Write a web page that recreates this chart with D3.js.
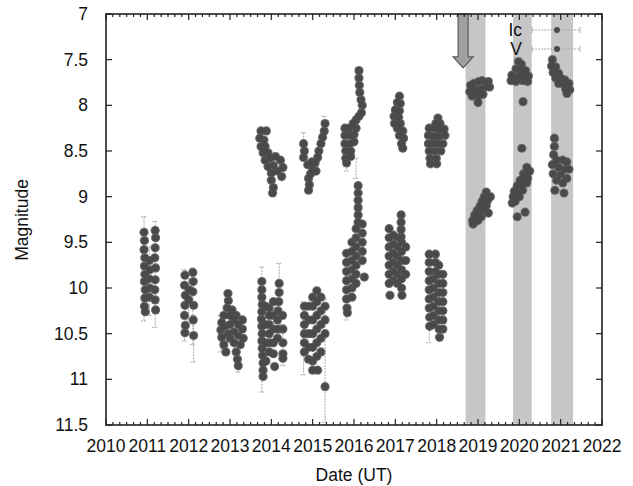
<!DOCTYPE html>
<html>
<head>
<meta charset="utf-8">
<script src="https://cdn.jsdelivr.net/npm/d3@7/dist/d3.min.js"></script>
<style>
  body { margin: 0; background: #fff; }
  text { font-family: "Liberation Sans", Arial, Helvetica, sans-serif; fill: #111; }
</style>
</head>
<body>
<div id="chart-area"></div>
<script>
// *********************
// Data
// *********************

const xTickYears = [2010, 2011, 2012, 2013, 2014, 2015, 2016, 2017, 2018, 2019, 2020, 2021, 2022];
const yTickMags = [7, 7.5, 8, 8.5, 9, 9.5, 10, 10.5, 11, 11.5];

// shaded observing seasons [start, end] in years
const bands = [[2018.7, 2019.18], [2019.85, 2020.3], [2020.77, 2021.3]];

// V band points [year, magnitude]
const vPoints = [
  // 2011
  [2010.92,9.39],[2010.93,9.48],[2010.92,9.58],[2010.94,9.67],[2010.93,9.76],[2010.94,9.85],[2010.93,9.93],
  [2010.95,10.02],[2010.94,10.11],[2010.93,10.2],[2010.95,10.26],
  [2011.19,9.37],[2011.2,9.45],[2011.19,9.56],[2011.18,9.67],[2011.2,9.78],[2011.19,9.91],[2011.18,10.02],
  [2011.19,10.13],[2011.2,10.24],
  [2011.05,9.7],[2011.06,9.8],[2011.04,9.9],[2011.06,10.0],[2011.05,10.1],
  // 2012
  [2011.91,9.86],[2011.9,9.97],[2011.92,10.08],[2011.91,10.19],[2011.9,10.3],[2011.92,10.41],[2011.91,10.49],
  [2012.1,9.83],[2012.11,9.93],[2012.1,10.04],[2012.12,10.19],[2012.11,10.35],[2012.12,10.52],
  [2012.01,10.02],[2012.0,10.13],
  // 2013
  [2012.95,10.06],[2012.96,10.14],[2012.93,10.22],[2012.85,10.3],[2012.8,10.38],[2012.78,10.46],[2012.8,10.54],
  [2012.85,10.62],[2012.9,10.7],[2013.0,10.3],[2013.05,10.24],[2013.0,10.4],[2013.1,10.35],[2013.2,10.4],
  [2013.3,10.45],[2013.32,10.55],[2013.25,10.62],[2013.1,10.6],[2013.0,10.55],[2013.15,10.7],[2013.18,10.78],
  [2013.2,10.85],[2012.95,10.5],[2013.1,10.48],[2013.2,10.52],[2013.3,10.35],[2012.88,10.42],[2013.15,10.3],
  // 2014
  [2013.77,9.93],[2013.77,10.02],[2013.77,10.1],[2013.78,10.18],[2013.77,10.26],[2013.76,10.34],[2013.77,10.42],
  [2013.78,10.5],[2013.77,10.58],[2013.78,10.66],[2013.79,10.74],[2013.8,10.82],[2013.8,10.9],[2013.8,10.97],
  [2013.86,10.2],[2013.86,10.4],[2013.86,10.6],[2013.87,10.8],
  [2013.95,10.22],[2013.95,10.3],[2013.95,10.4],[2013.95,10.5],[2013.95,10.6],[2013.95,10.7],
  [2014.05,10.15],[2014.05,10.3],[2014.05,10.45],[2014.05,10.6],[2014.05,10.72],[2014.08,10.86],
  [2014.19,9.95],[2014.19,10.05],[2014.18,10.15],[2014.16,10.25],[2014.15,10.35],[2014.15,10.45],[2014.15,10.55],
  [2014.27,10.3],[2014.28,10.45],[2014.28,10.6],[2014.28,10.72],[2014.28,10.77],
  // 2015
  [2014.8,10.2],[2014.8,10.3],[2014.8,10.4],[2014.8,10.5],[2014.8,10.6],[2014.8,10.7],
  [2014.9,10.2],[2014.9,10.35],[2014.9,10.5],[2014.9,10.65],[2014.9,10.78],
  [2015.0,10.1],[2015.0,10.2],[2015.0,10.35],[2015.0,10.5],[2015.0,10.65],[2015.0,10.8],[2015.0,10.9],
  [2015.1,10.03],[2015.1,10.15],[2015.1,10.3],[2015.1,10.45],[2015.1,10.6],[2015.1,10.75],[2015.12,10.9],
  [2015.2,10.1],[2015.2,10.25],[2015.2,10.4],[2015.2,10.55],[2015.2,10.7],
  [2015.3,10.2],[2015.3,10.35],[2015.3,10.5],[2015.3,11.08],
  // 2016
  [2016.1,8.88],[2016.1,8.96],[2016.1,9.04],[2016.1,9.12],[2016.1,9.2],[2016.1,9.28],
  [2016.2,9.3],[2016.2,9.4],[2016.2,9.5],[2016.2,9.6],[2016.2,9.7],
  [2016.05,9.35],[2016.05,9.45],[2016.05,9.55],[2016.05,9.65],[2016.05,9.75],[2016.05,9.85],[2016.05,9.95],
  [2015.95,9.5],[2015.95,9.6],[2015.95,9.7],[2015.95,9.8],[2015.95,9.9],[2015.95,10.0],[2015.95,10.1],
  [2015.82,9.62],[2015.82,9.72],[2015.82,9.82],[2015.82,9.92],[2015.82,10.02],[2015.82,10.12],[2015.83,10.22],
  [2015.84,10.27],[2016.25,9.88],
  // 2017
  [2017.14,9.2],[2017.14,9.28],[2017.14,9.36],[2017.14,9.44],
  [2016.85,9.35],[2016.85,9.45],[2016.85,9.55],[2016.85,9.65],[2016.85,9.75],[2016.85,9.85],[2016.85,9.95],
  [2016.87,10.08],
  [2016.95,9.42],[2016.95,9.52],[2016.95,9.62],[2016.95,9.72],[2016.95,9.82],[2016.95,9.92],
  [2017.05,9.45],[2017.05,9.55],[2017.05,9.65],[2017.05,9.75],[2017.05,9.85],[2017.05,9.95],
  [2017.15,9.5],[2017.15,9.6],[2017.15,9.7],[2017.15,9.8],[2017.15,9.9],[2017.15,10.0],[2017.16,10.08],
  [2017.25,9.55],[2017.25,9.7],[2017.25,9.85],
  // 2018
  [2017.82,9.63],[2017.82,9.72],[2017.82,9.82],[2017.82,9.92],[2017.82,10.02],[2017.82,10.12],[2017.82,10.22],
  [2017.83,10.32],[2017.83,10.42],
  [2017.97,9.63],[2017.97,9.72],[2017.97,9.82],
  [2018.05,9.75],[2018.05,9.85],[2018.05,9.95],[2018.05,10.05],[2018.05,10.15],[2018.05,10.25],[2018.05,10.35],
  [2018.06,10.45],[2018.07,10.54],
  [2018.15,9.85],[2018.15,9.95],[2018.15,10.05],[2018.15,10.15],[2018.15,10.25],[2018.15,10.35],[2018.15,10.45],
  [2017.92,9.9],[2017.92,10.0],[2017.92,10.1],[2017.92,10.2],[2017.92,10.3],[2017.92,10.4],
  // 2019
  [2019.2,8.95],[2019.25,9.02],[2019.15,9.0],[2019.1,9.05],[2019.2,9.1],[2019.05,9.1],[2018.98,9.15],
  [2019.1,9.15],[2018.92,9.2],[2019.05,9.2],[2018.87,9.26],[2019.0,9.26],[2018.88,9.3],[2019.25,9.18],
  [2019.15,9.08],[2019.22,9.05],[2018.95,9.22],[2019.08,9.22],[2018.92,9.28],[2019.3,9.0],[2019.15,9.15],
  // 2020
  [2020.18,8.68],[2020.22,8.73],[2020.1,8.75],[2020.15,8.8],[2020.02,8.82],[2020.1,8.86],[2019.95,8.88],
  [2020.03,8.92],[2019.88,8.94],[2019.97,8.98],[2019.85,9.0],[2019.9,9.05],[2019.83,9.07],[2020.14,9.17],
  [2019.95,9.22],[2020.25,8.72],[2020.2,8.8],[2020.08,8.93],[2020.0,9.0],[2019.9,9.0],[2020.18,8.85],
  [2019.92,8.98],
  // 2021
  [2020.85,8.36],[2020.85,8.45],[2020.83,8.54],[2020.9,8.6],[2021.05,8.6],[2021.15,8.62],[2020.8,8.65],
  [2020.95,8.68],[2021.1,8.7],[2021.2,8.7],[2020.82,8.75],[2021.0,8.76],[2021.15,8.8],[2020.9,8.82],
  [2021.05,8.85],[2020.86,8.93],[2021.08,8.96]
];

// Ic band points [year, magnitude]
const icPoints = [
  // 2014
  [2013.75,8.28],[2013.88,8.28],[2013.72,8.36],[2013.82,8.38],[2013.75,8.45],[2013.85,8.45],[2013.8,8.52],
  [2013.92,8.52],[2013.85,8.6],[2013.97,8.58],[2014.1,8.56],[2014.22,8.6],[2013.92,8.67],[2014.05,8.66],
  [2014.28,8.68],[2014.0,8.74],[2014.15,8.72],[2014.25,8.78],[2014.0,8.82],[2014.05,8.9],[2014.03,8.96],
  // 2015
  [2014.78,8.42],[2014.8,8.5],[2014.78,8.57],[2015.3,8.2],[2015.28,8.28],[2015.24,8.35],[2015.2,8.42],
  [2015.15,8.5],[2015.12,8.57],[2015.06,8.63],[2015.0,8.7],[2014.95,8.75],[2014.9,8.8],[2014.92,8.87],
  [2014.9,8.93],[2015.08,8.72],[2014.98,8.62],[2014.88,8.65],
  // 2016
  [2016.12,7.62],[2016.12,7.7],[2016.13,7.78],[2016.14,7.86],[2016.17,7.94],[2016.2,8.0],[2016.18,8.08],
  [2016.12,8.12],[2016.05,8.16],[2015.98,8.2],[2016.05,8.25],[2015.78,8.25],[2015.88,8.25],[2015.78,8.33],
  [2015.9,8.33],[2016.0,8.32],[2015.78,8.42],[2015.9,8.42],[2016.0,8.4],[2015.8,8.5],[2015.92,8.5],
  [2015.8,8.58],[2015.92,8.56],[2015.82,8.63],
  // 2017
  [2017.1,7.9],[2017.05,7.97],[2017.12,7.98],[2017.0,8.05],[2017.1,8.06],[2016.97,8.12],[2017.08,8.13],
  [2016.98,8.2],[2017.12,8.2],[2017.05,8.25],[2017.18,8.28],[2017.1,8.33],[2017.2,8.36],[2017.15,8.42],
  [2017.18,8.47],
  // 2018
  [2018.03,8.14],[2017.98,8.2],[2018.08,8.2],[2017.82,8.25],[2017.92,8.25],[2018.05,8.27],[2018.18,8.26],
  [2017.8,8.33],[2017.92,8.34],[2018.05,8.34],[2018.2,8.33],[2017.8,8.42],[2017.9,8.42],[2018.02,8.42],
  [2018.15,8.42],[2017.82,8.5],[2017.95,8.5],[2018.1,8.5],[2017.84,8.58],[2017.99,8.58],[2017.85,8.64],
  [2018.0,8.64],
  // 2019
  [2018.82,7.78],[2018.9,7.76],[2019.02,7.74],[2019.1,7.73],[2019.25,7.74],[2018.8,7.85],[2018.92,7.84],
  [2019.05,7.82],[2019.18,7.8],[2019.28,7.8],[2018.86,7.9],[2019.0,7.9],[2019.12,7.88],[2019.0,7.97],
  // 2020
  [2019.98,7.52],[2020.05,7.55],[2019.92,7.6],[2020.05,7.62],[2020.15,7.62],[2019.82,7.67],[2019.95,7.68],
  [2020.1,7.68],[2020.22,7.68],[2019.8,7.73],[2019.92,7.74],[2020.08,7.73],[2020.2,7.74],[2020.09,7.96],
  [2020.06,8.47],
  // 2021
  [2020.8,7.5],[2020.78,7.57],[2020.88,7.58],[2020.82,7.64],[2020.95,7.65],[2020.88,7.7],[2021.0,7.7],
  [2021.1,7.72],[2020.95,7.76],[2021.08,7.77],[2021.2,7.76],[2021.12,7.82],[2021.22,7.83],[2021.15,7.87]
];

// visible error bars [year, low mag, high mag]
const vErrorBars = [
  [2010.92,9.22,10.36],[2011.19,9.27,10.43],[2011.05,9.55,10.3],
  [2011.9,9.8,10.58],[2012.1,9.78,10.62],[2012.12,10.3,10.81],[2012.0,9.9,10.35],
  [2012.78,10.3,10.7],[2013.2,10.7,10.92],
  [2013.77,9.77,11.14],[2014.19,9.73,10.5],[2014.28,10.4,10.85],
  [2014.78,10.15,10.95],[2015.3,10.12,11.47],
  [2015.82,10.15,10.35],[2017.82,10.3,10.6]
];
const icErrorBars = [
  [2014.78,8.3,8.6],[2015.28,8.12,8.3],[2016.05,8.58,8.8],[2015.82,8.55,8.72]
];

// arrow marking the start of the shaded seasons
const arrowYear = 2018.64;
const arrowTipMag = 7.59;

// *********************
// Setup
// *********************

const W = 633, H = 486;
const margin = {left: 106, right: 31, top: 14, bottom: 61};
const width = W - margin.left - margin.right;
const height = H - margin.top - margin.bottom;

const svg = d3.select("#chart-area").append("svg")
  .attr("width", W)
  .attr("height", H);

svg.append("rect").attr("width", W).attr("height", H).attr("fill", "#fff");

const g = svg.append("g")
  .attr("transform", "translate(" + margin.left + "," + margin.top + ")");

const x = d3.scaleLinear().domain([2010, 2022]).range([0, width]);
const y = d3.scaleLinear().domain([7, 11.5]).range([0, height]);

// clip for data
svg.append("clipPath").attr("id", "plot-clip")
  .append("rect").attr("width", width).attr("height", height);
const plot = g.append("g").attr("clip-path", "url(#plot-clip)");

// bands
plot.selectAll(".band").data(bands).enter().append("rect")
  .attr("class", "band")
  .attr("x", d => x(d[0]))
  .attr("width", d => x(d[1]) - x(d[0]))
  .attr("y", 0)
  .attr("height", height)
  .attr("fill", "#c6c6c6");

// error bars
function drawErrors(data) {
  const eb = plot.append("g")
    .attr("stroke", "#ababab")
    .attr("stroke-width", 1)
    .attr("stroke-dasharray", "2,1");
  eb.selectAll("line.v").data(data).enter().append("line")
    .attr("x1", d => x(d[0])).attr("x2", d => x(d[0]))
    .attr("y1", d => y(d[1])).attr("y2", d => y(d[2]));
  const caps = eb.append("g").attr("stroke-dasharray", null);
  caps.selectAll("line.lo").data(data).enter().append("line")
    .attr("x1", d => x(d[0]) - 3).attr("x2", d => x(d[0]) + 3)
    .attr("y1", d => y(d[1])).attr("y2", d => y(d[1]));
  caps.selectAll("line.hi").data(data).enter().append("line")
    .attr("x1", d => x(d[0]) - 3).attr("x2", d => x(d[0]) + 3)
    .attr("y1", d => y(d[2])).attr("y2", d => y(d[2]));
}
drawErrors(vErrorBars);
drawErrors(icErrorBars);

// points: halo layer first, then dark cores so blobs merge
function drawPoints(data) {
  const pg = plot.append("g");
  pg.selectAll("circle.halo").data(data).enter().append("circle")
    .attr("class", "halo")
    .attr("cx", d => x(d[0]))
    .attr("cy", d => y(d[1]))
    .attr("r", 4.6)
    .attr("fill", "#6e6e6e");
  pg.selectAll("circle.core").data(data).enter().append("circle")
    .attr("class", "core")
    .attr("cx", d => x(d[0]))
    .attr("cy", d => y(d[1]))
    .attr("r", 3.6)
    .attr("fill", "#4a4a4a");
}
drawPoints(vPoints);
drawPoints(icPoints);

// arrow
const ax = x(arrowYear), tip = y(arrowTipMag), headY = tip - 11;
g.append("path")
  .attr("d", "M" + (ax - 5) + ",0 L" + (ax - 5) + "," + headY + " L" + (ax - 10) + "," + headY +
    " L" + ax + "," + tip + " L" + (ax + 10) + "," + headY + " L" + (ax + 5) + "," + headY +
    " L" + (ax + 5) + ",0 Z")
  .attr("fill", "#a0a0a0")
  .attr("stroke", "#5a5a5a")
  .attr("stroke-width", 1.2);

// *********************
// Axes (frame with inward ticks)
// *********************

const axisColor = "#222";
const minorTicks = [];
xTickYears.slice(0, -1).forEach(yr => {
  for (let k = 1; k < 6; k++) minorTicks.push(yr + k / 6);
});

const ticks = g.append("g").attr("stroke", axisColor).attr("stroke-width", 1.2);
[0, height].forEach((yy, i) => {
  const dir = i === 0 ? 1 : -1;
  ticks.append("g").selectAll("line").data(xTickYears).enter().append("line")
    .attr("x1", d => x(d)).attr("x2", d => x(d))
    .attr("y1", yy).attr("y2", yy + dir * 6);
  ticks.append("g").selectAll("line").data(minorTicks).enter().append("line")
    .attr("x1", d => x(d)).attr("x2", d => x(d))
    .attr("y1", yy).attr("y2", yy + dir * 3);
});
[0, width].forEach((xx, i) => {
  const dir = i === 0 ? 1 : -1;
  ticks.append("g").selectAll("line").data(yTickMags).enter().append("line")
    .attr("x1", xx).attr("x2", xx + dir * 6)
    .attr("y1", d => y(d)).attr("y2", d => y(d));
});

g.append("rect")
  .attr("width", width).attr("height", height)
  .attr("fill", "none")
  .attr("stroke", axisColor)
  .attr("stroke-width", 1.6);

// tick labels
g.append("g").selectAll("text").data(xTickYears).enter().append("text")
  .attr("x", d => x(d))
  .attr("y", height + 27)
  .attr("text-anchor", "middle")
  .attr("font-size", "17.5px")
  .text(d => d);

g.append("g").selectAll("text").data(yTickMags).enter().append("text")
  .attr("x", -18)
  .attr("y", d => y(d) + 6)
  .attr("text-anchor", "end")
  .attr("font-size", "17.5px")
  .text(d => d);

// axis labels
svg.append("text")
  .attr("x", margin.left + width / 2)
  .attr("y", 481)
  .attr("text-anchor", "middle")
  .attr("font-size", "17.5px")
  .text("Date (UT)");

svg.append("text")
  .attr("transform", "translate(28,220) rotate(-90)")
  .attr("text-anchor", "middle")
  .attr("font-size", "17.5px")
  .text("Magnitude");

// *********************
// Legend
// *********************

const legendItems = [{name: "Ic", yPos: 30}, {name: "V", yPos: 49}];
const legend = svg.append("g");
legendItems.forEach(item => {
  legend.append("text")
    .attr("x", 522)
    .attr("y", item.yPos + 6)
    .attr("text-anchor", "end")
    .attr("font-size", "17.5px")
    .text(item.name);
  legend.append("line")
    .attr("x1", 532).attr("x2", 580)
    .attr("y1", item.yPos).attr("y2", item.yPos)
    .attr("stroke", "#ababab")
    .attr("stroke-dasharray", "2,1");
  [532, 580].forEach(cx => {
    legend.append("line")
      .attr("x1", cx).attr("x2", cx)
      .attr("y1", item.yPos - 3).attr("y2", item.yPos + 3)
      .attr("stroke", "#ababab");
  });
  legend.append("circle")
    .attr("cx", 557).attr("cy", item.yPos)
    .attr("r", 3)
    .attr("fill", "#4a4a4a");
});
</script>
</body>
</html>
